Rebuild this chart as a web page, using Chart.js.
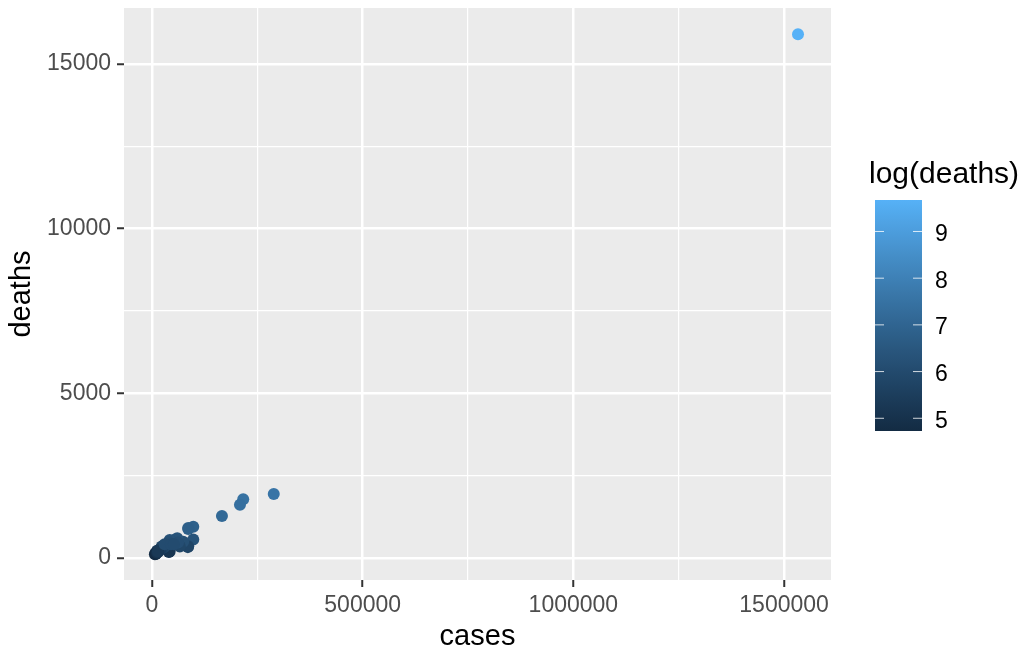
<!DOCTYPE html>
<html>
<head>
<meta charset="utf-8">
<script src="https://cdn.jsdelivr.net/npm/chart.js@4.4.0/dist/chart.umd.min.js"></script>
<style>
  html, body { margin: 0; padding: 0; background: #fff; }
</style>
</head>
<body>
<canvas id="chart" width="1027" height="651"></canvas>
<script>
// data
const CASES = [
  1533000, 289000, 216500, 208800, 166000, 98000, 86000, 86000, 98000, 86000,
  85000, 74000, 66000, 60000, 55000, 50000, 42000, 40000, 35000, 42000,
  40000, 30000, 25000, 23000, 20000, 18000, 15000, 12000, 10000, 9000,
  8000, 7000, 12000, 14000, 30000, 45000, 62000, 52000
];
const DEATHS = [
  15900, 1943, 1782, 1620, 1275, 950, 910, 880, 560, 360,
  330, 495, 350, 600, 560, 480, 550, 480, 400, 200,
  180, 340, 300, 350, 260, 250, 190, 220, 150, 120,
  140, 113, 160, 200, 420, 420, 470, 420
];
const X_TICKS = [0, 250000, 500000, 750000, 1000000, 1250000, 1500000];
const Y_TICKS = [0, 2500, 5000, 7500, 10000, 12500, 15000];
const LEGEND_TICKS = [5, 6, 7, 8, 9];

const FONT = '"Liberation Sans", Arial, Helvetica, sans-serif';

// ggplot-like gradient (#132B43 -> #56B1F7) interpolated in CIELAB
function hexToRgb(h) {
  return [1, 3, 5].map(i => parseInt(h.substr(i, 2), 16));
}
function rgbToLab([r, g, b]) {
  const lin = c => { c /= 255; return c > 0.04045 ? Math.pow((c + 0.055) / 1.055, 2.4) : c / 12.92; };
  const R = lin(r), G = lin(g), B = lin(b);
  const X = (R * 0.4124 + G * 0.3576 + B * 0.1805) / 0.95047;
  const Y = (R * 0.2126 + G * 0.7152 + B * 0.0722);
  const Z = (R * 0.0193 + G * 0.1192 + B * 0.9505) / 1.08883;
  const f = t => t > 0.008856 ? Math.cbrt(t) : 7.787 * t + 16 / 116;
  return [116 * f(Y) - 16, 500 * (f(X) - f(Y)), 200 * (f(Y) - f(Z))];
}
function labToRgb([L, a, b]) {
  const fy = (L + 16) / 116, fx = fy + a / 500, fz = fy - b / 200;
  const fi = t => t * t * t > 0.008856 ? t * t * t : (t - 16 / 116) / 7.787;
  const X = fi(fx) * 0.95047, Y = fi(fy), Z = fi(fz) * 1.08883;
  const R = X * 3.2406 + Y * -1.5372 + Z * -0.4986;
  const G = X * -0.9689 + Y * 1.8758 + Z * 0.0415;
  const B = X * 0.0557 + Y * -0.2040 + Z * 1.0570;
  const g = c => {
    c = c > 0.0031308 ? 1.055 * Math.pow(c, 1 / 2.4) - 0.055 : 12.92 * c;
    return Math.round(Math.min(1, Math.max(0, c)) * 255);
  };
  return [g(R), g(G), g(B)];
}
const LOW = rgbToLab(hexToRgb('#132B43'));
const HIGH = rgbToLab(hexToRgb('#56B1F7'));
function gradient(t) {
  const lab = LOW.map((v, i) => v + (HIGH[i] - v) * t);
  const [r, g, b] = labToRgb(lab);
  return `rgb(${r},${g},${b})`;
}

const logDeaths = DEATHS.map(d => Math.log(d));
const LOG_MIN = Math.min(...logDeaths);
const LOG_MAX = Math.max(...logDeaths);
const pointColors = logDeaths.map(v => gradient((v - LOG_MIN) / (LOG_MAX - LOG_MIN)));

// panel background and colourbar legend
const panelAndLegend = {
  id: 'panelAndLegend',
  beforeDraw(chart) {
    const { ctx, chartArea: a } = chart;
    ctx.save();
    ctx.fillStyle = '#EBEBEB';
    ctx.fillRect(a.left, a.top, a.right - a.left, a.bottom - a.top);
    ctx.restore();
  },
  afterDraw(chart) {
    const ctx = chart.ctx;
    const barX = 875, barW = 47, barTop = 200, barH = 231;
    ctx.save();
    ctx.fillStyle = '#000';
    ctx.font = `30px ${FONT}`;
    ctx.textBaseline = 'middle';
    ctx.textAlign = 'left';
    ctx.fillText('log(deaths)', 869, 175);

    const grad = ctx.createLinearGradient(0, barTop + barH, 0, barTop);
    for (let i = 0; i <= 20; i++) grad.addColorStop(i / 20, gradient(i / 20));
    ctx.fillStyle = grad;
    ctx.fillRect(barX, barTop, barW, barH);

    ctx.font = `23px ${FONT}`;
    LEGEND_TICKS.forEach(v => {
      const y = barTop + barH - (v - LOG_MIN) / (LOG_MAX - LOG_MIN) * barH;
      ctx.strokeStyle = 'rgba(255,255,255,0.8)';
      ctx.lineWidth = 1;
      ctx.beginPath();
      ctx.moveTo(barX, y); ctx.lineTo(barX + 9, y);
      ctx.moveTo(barX + barW - 9, y); ctx.lineTo(barX + barW, y);
      ctx.stroke();
      ctx.fillStyle = '#000';
      ctx.fillText(String(v), 935, y + 3);
    });
    ctx.restore();
  }
};

const isMajor = (v, step) => v % step === 0;

new Chart(document.getElementById('chart'), {
  type: 'scatter',
  data: {
    datasets: [{
      data: CASES.map((c, i) => ({ x: c, y: DEATHS[i] })),
      backgroundColor: pointColors,
      pointRadius: 6,
      pointHoverRadius: 6,
      borderWidth: 0
    }]
  },
  options: {
    responsive: false,
    animation: false,
    events: [],
    layout: { padding: { top: 8, right: 196, left: 0, bottom: 0 } },
    plugins: { legend: { display: false }, tooltip: { enabled: false } },
    scales: {
      x: {
        type: 'linear',
        min: -66400,
        max: 1611300,
        afterBuildTicks: s => { s.ticks = X_TICKS.map(v => ({ value: v })); },
        afterFit: s => { s.height = 71; s.paddingLeft = 0; s.paddingRight = 0; },
        border: { display: false },
        grid: {
          color: '#FFFFFF',
          lineWidth: c => isMajor(c.tick.value, 500000) ? 2.5 : 1.2,
          tickColor: c => isMajor(c.tick.value, 500000) ? '#333333' : 'rgba(0,0,0,0)',
          tickWidth: 2,
          tickLength: 7
        },
        ticks: {
          autoSkip: false,
          maxRotation: 0,
          padding: 5,
          color: '#4D4D4D',
          font: { family: FONT, size: 23 },
          callback: v => isMajor(v, 500000) ? String(v) : ''
        },
        title: {
          display: true,
          text: 'cases',
          color: '#000',
          font: { family: FONT, size: 29, lineHeight: 1 },
          padding: { top: 0, bottom: 0 }
        }
      },
      y: {
        type: 'linear',
        min: -668,
        max: 16697,
        afterBuildTicks: s => { s.ticks = Y_TICKS.map(v => ({ value: v })); },
        afterFit: s => { s.width = 124; s.paddingTop = 0; s.paddingBottom = 0; },
        border: { display: false },
        grid: {
          color: '#FFFFFF',
          lineWidth: c => isMajor(c.tick.value, 5000) ? 2.5 : 1.2,
          tickColor: c => isMajor(c.tick.value, 5000) ? '#333333' : 'rgba(0,0,0,0)',
          tickWidth: 2,
          tickLength: 7
        },
        ticks: {
          autoSkip: false,
          padding: 6,
          color: '#4D4D4D',
          font: { family: FONT, size: 23 },
          callback: v => isMajor(v, 5000) ? String(v) : ''
        },
        title: {
          display: true,
          text: 'deaths',
          color: '#000',
          font: { family: FONT, size: 29, lineHeight: 1 },
          padding: { top: 7, bottom: 0 }
        }
      }
    }
  },
  plugins: [panelAndLegend]
});
</script>
</body>
</html>
